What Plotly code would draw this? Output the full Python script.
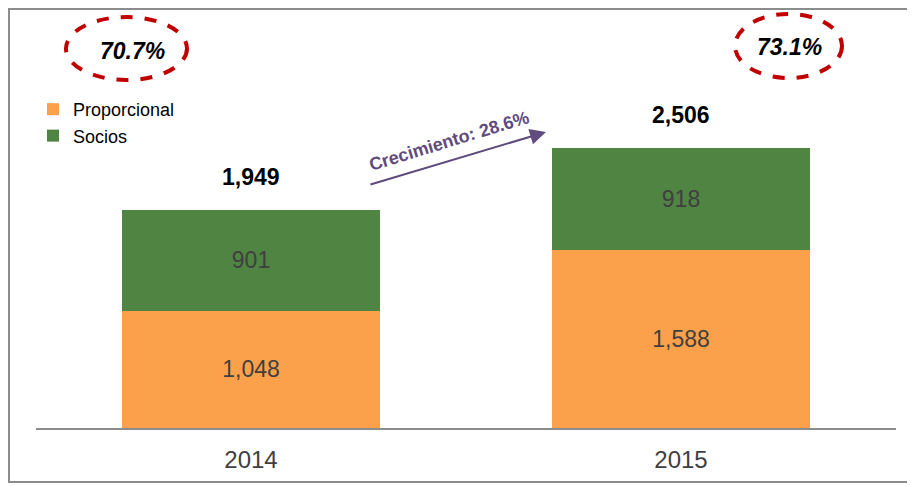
import plotly.graph_objects as go

years = ["2014", "2015"]
proporcional = [1048, 1588]
socios = [901, 918]
totales = [1949, 2506]
porcentajes = ["70.7%", "73.1%"]
crecimiento = "Crecimiento: 28.6%"

# page puts the figure 8px in from the window corner
OFF = 8
W, H = 915, 486
L, R, T, B = 28, 27, 2, 66
pw, ph = W - L - R, H - T - B


def px(x):
    # screen x -> paper
    return (x - OFF - L) / pw


def py(y):
    # screen y -> paper
    return (H - B - (y - OFF)) / ph


idx = list(range(len(years)))

fig = go.Figure()
fig.add_trace(go.Bar(
    x=idx, y=proporcional, name="Proporcional",
    marker=dict(color="#FBA04B", line=dict(width=0)),
    texttemplate="%{y:,}", textposition="inside", insidetextanchor="middle",
    textfont=dict(size=23, color="#404040", family="Arial"),
))
fig.add_trace(go.Bar(
    x=idx, y=socios, name="Socios",
    marker=dict(color="#4F8443", line=dict(width=0)),
    texttemplate="%{y:,}", textposition="inside", insidetextanchor="middle",
    textfont=dict(size=23, color="#404040", family="Arial"),
))

# totals above bars
for i, tot in zip(idx, totales):
    fig.add_annotation(x=i, y=tot, text="<b>{:,}</b>".format(tot), showarrow=False,
                       xanchor="center", yanchor="bottom", yshift=18,
                       font=dict(size=23, color="#000000", family="Arial"))

# percentage ellipses
ellipses = [(66, 17, 187, 80, 132, 51), (735, 14, 842, 78, 789, 47)]
for (x0, y0, x1, y1, tx, ty), pct in zip(ellipses, porcentajes):
    fig.add_shape(type="circle", xref="paper", yref="paper",
                  x0=px(x0), x1=px(x1), y0=py(y1), y1=py(y0),
                  line=dict(color="#C00000", width=4, dash="dash"))
    fig.add_annotation(xref="paper", yref="paper", x=px(tx), y=py(ty),
                       xanchor="center", yanchor="middle",
                       text="<b><i>" + pct + "</i></b>", showarrow=False,
                       font=dict(size=23, color="#000000", family="Arial"))

# growth arrow
fig.add_annotation(xref="paper", yref="paper", x=px(546), y=py(132),
                   ax=-177, ay=53, text="", showarrow=True,
                   arrowhead=2, arrowsize=1.6, arrowwidth=2, arrowcolor="#5F4B7D")
fig.add_annotation(xref="paper", yref="paper", x=px(449), y=py(141),
                   xanchor="center", yanchor="middle",
                   text="<b>" + crecimiento + "</b>", showarrow=False, textangle=-17,
                   font=dict(size=18, color="#5F4B7D", family="Arial"))

# outer border
fig.add_shape(type="rect", xref="paper", yref="paper",
              x0=px(OFF + 1), x1=px(912), y0=py(482), y1=py(OFF + 1),
              line=dict(color="#8C8C8C", width=2))

fig.update_layout(
    width=W, height=H,
    margin=dict(l=L, r=R, t=T, b=B),
    barmode="stack", bargap=0.4,
    plot_bgcolor="white", paper_bgcolor="white",
    font=dict(family="Arial"),
    showlegend=True,
    legend=dict(x=px(33), y=py(91), xanchor="left", yanchor="top",
                traceorder="normal", font=dict(size=18, color="#000000"),
                bgcolor="rgba(0,0,0,0)", itemsizing="constant", tracegroupgap=0),
    xaxis=dict(range=[-0.5, 1.5], tickvals=idx, ticktext=years,
               showline=True, linecolor="#8C8C8C", linewidth=2,
               ticks="", automargin=False, zeroline=False, ticklabelstandoff=9,
               tickfont=dict(size=24, color="#404040"), showgrid=False),
    yaxis=dict(range=[0, ph / 0.1118], visible=False, showgrid=False,
               automargin=False),
)

fig.write_html("out.html")
